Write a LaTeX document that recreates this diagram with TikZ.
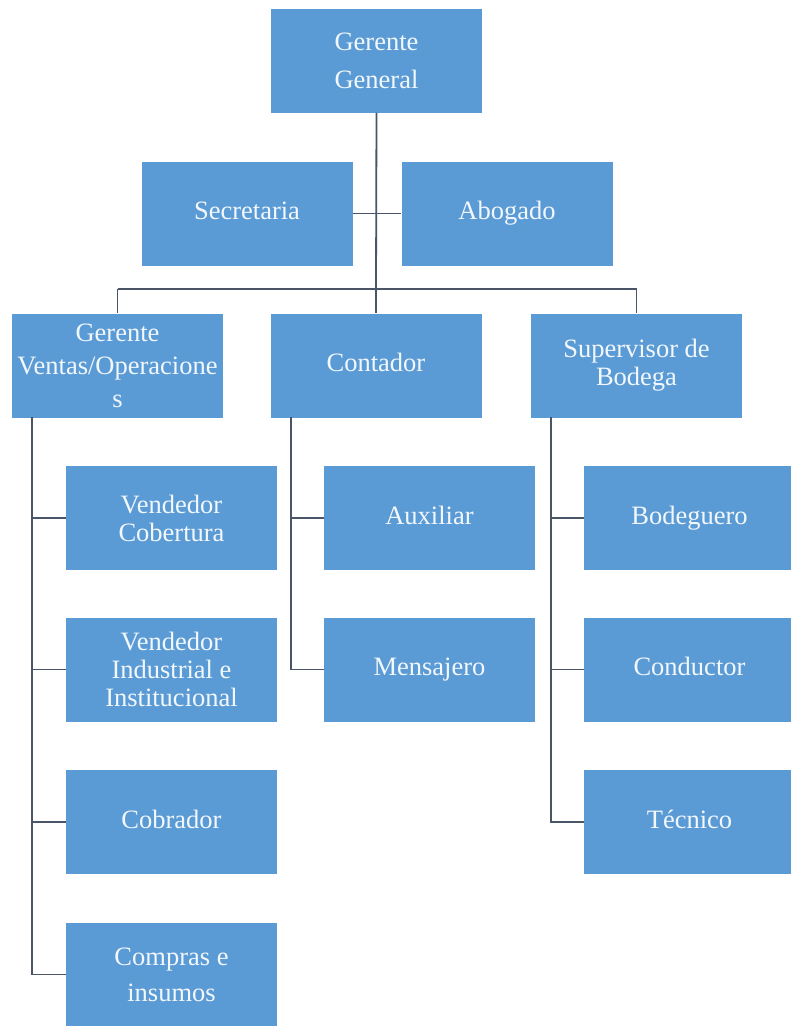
\documentclass[tikz,border=0pt]{standalone}
\usepackage{fontspec}
\setmainfont{Liberation Serif}
\begin{document}
\begin{tikzpicture}[x=1pt,y=-1pt,
  box/.style={rectangle, fill=boxblue, draw=none, text=boxtext, minimum width=211pt, minimum height=104pt,
    inner sep=0pt, align=center, font=\fontsize{26.5}{30}\selectfont},
  conn/.style={draw=linegray, line width=1.8pt}]
\definecolor{boxblue}{HTML}{5B9BD5}
\definecolor{boxtext}{HTML}{F2F7FC}
\definecolor{linegray}{HTML}{4A5568}
\path[use as bounding box] (0,0) rectangle (791,1026);
\clip (0,0) rectangle (791,1026);
\fill[white] (0,0) rectangle (791,1026);

\node[box, font=\fontsize{26.5}{38}\selectfont] (gg) at (376.5,60.5) {Gerente\\General};
\node[box] (sec) at (247,213.5) {\strut Secretaria};
\node[box] (abo) at (507,213.5) {\strut Abogado};
\node[box, font=\fontsize{26.5}{33}\selectfont] (gv) at (117.5,365.5) {Gerente\\Ventas/Operacione\\s};
\node[box] (con) at (376,365.5) {\strut Contador};
\node[box, font=\fontsize{26.5}{28}\selectfont] (sup) at (636.5,365.5) {Supervisor de\\Bodega};
\node[box, font=\fontsize{26.5}{28}\selectfont] (vc) at (171.5,518) {Vendedor\\Cobertura};
\node[box, font=\fontsize{26.5}{28}\selectfont] (vi) at (171.5,669.5) {Vendedor\\Industrial e\\Institucional};
\node[box] (cob) at (171.5,822) {\strut Cobrador};
\node[box, font=\fontsize{26.5}{36}\selectfont] (com) at (171.5,974.5) {Compras e\\insumos};
\node[box] (aux) at (429.5,518) {\strut Auxiliar};
\node[box] (men) at (429.5,669.5) {\strut Mensajero};
\node[box] (bod) at (689.5,518) {\strut Bodeguero};
\node[box] (cond) at (689.5,669.5) {\strut Conductor};
\node[box] (tec) at (689.5,822) {\strut Técnico};

\coordinate (bus) at (376,289);
\draw[conn] (gg.south) -- (bus);
\draw[conn] (sec.east) -- (abo.west);
\draw[conn] (gv.north |- bus) -- (sup.north |- bus);
\draw[conn] (gv.north |- bus) -- (gv.north);
\draw[conn] (con.north |- bus) -- (con.north);
\draw[conn] (sup.north |- bus) -- (sup.north);

\coordinate (lv) at (32,417);
\draw[conn] (lv) |- (com.west);
\draw[conn] (lv |- vc.west) -- (vc.west);
\draw[conn] (lv |- vi.west) -- (vi.west);
\draw[conn] (lv |- cob.west) -- (cob.west);

\coordinate (cv) at (291,417);
\draw[conn] (cv) |- (men.west);
\draw[conn] (cv |- aux.west) -- (aux.west);

\coordinate (sv) at (551,417);
\draw[conn] (sv) |- (tec.west);
\draw[conn] (sv |- bod.west) -- (bod.west);
\draw[conn] (sv |- cond.west) -- (cond.west);
\end{tikzpicture}
\end{document}
